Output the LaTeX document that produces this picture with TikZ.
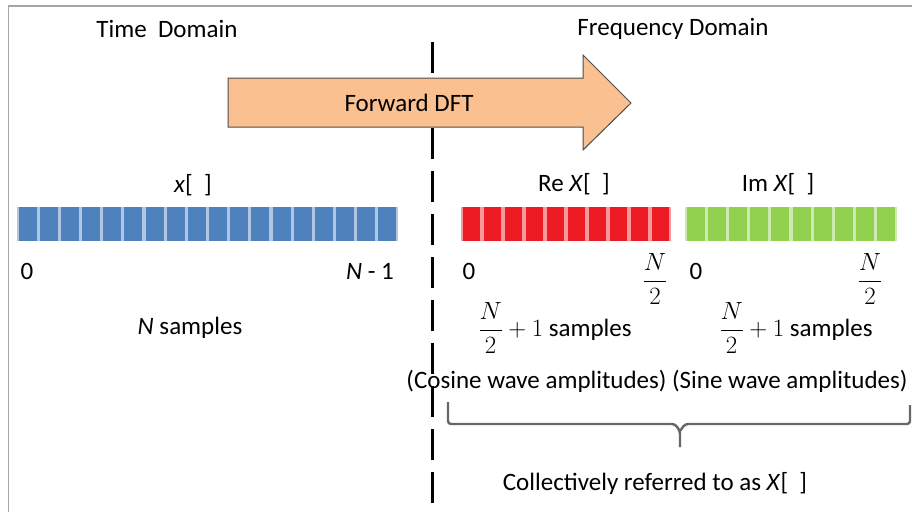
\documentclass[tikz,border=0pt]{standalone}
\usepackage{amsmath}
\usepackage{fontspec}
\setmainfont{Carlito}
\usetikzlibrary{arrows.meta,calc,positioning}
\definecolor{tdblue}{HTML}{4F81BD}
\definecolor{tdred}{HTML}{ED1C24}
\definecolor{tdgreen}{HTML}{92D050}
\definecolor{dftorange}{HTML}{FAC090}
\tikzset {
  >=Stealth,
  every node/.style={font=\fontsize{25}{30}\selectfont,inner sep=0pt},
  cell/.style={fill=#1},
  gap/.style={fill=#1!45!white},
  divider/.style={line width=3pt,dash pattern=on 31pt off 12pt},
  bracket/.style={black!60,line width=2.4pt,rounded corners=3pt},
}

\begin{document}
\begin{tikzpicture}[x=1pt,y=-1pt]
          \useasboundingbox (0,0) rectangle (912,512);
          % frame
          \draw[gray!70,line width=1.5pt] (8.5,512) -- (8.5,6) -- (912,6);
          % dashed split
          \coordinate (divtop) at (432,42);
          \coordinate (divbot) at (432,505);
          \draw[divider] (divtop) -- (divbot);
          % forward DFT arrow
          \coordinate (tailtop) at (228,78);
          \coordinate (tailbot) at (228,127);
          \coordinate (tip) at (631,103);
          \filldraw[fill=dftorange,draw=black!70,line width=1pt]
            (tailtop) -- (583,78) -- (583,55) -- (tip) -- (583,150) -- (583,127) -- (tailbot) -- cycle;
          \node (dft) at (409,103) {Forward DFT};
          % headings
          \node (time) at (167,29) {Time\ \ Domain};
          \node (freq) at (673,29) {Frequency Domain};
          % sample bars
          \fill[gap=tdblue] (17,207) rectangle (398,241);
          \foreach \i in {0,...,17}
            \fill[cell=tdblue] ({17+\i*21.17+1.6},207) rectangle ++(18,34);
          \fill[gap=tdred] (461,207) rectangle (671,241);
          \foreach \i in {0,...,9}
            \fill[cell=tdred] ({461+\i*21+1.6},207) rectangle ++(17.8,34);
          \fill[gap=tdgreen] (685,207) rectangle (897,241);
          \foreach \i in {0,...,9}
            \fill[cell=tdgreen] ({685+\i*21.2+1.6},207) rectangle ++(18,34);
          % bar labels
          \node (xlab) at (193,185) {\textit{x}[\ \ ]};
          \node (relab) at (574,184) {Re \textit{X}[\ \ ]};
          \node (imlab) at (778,184) {Im \textit{X}[\ \ ]};
          % index labels
          \node (t0) at (27,271) {0};
          \node (tn) at (370,271) {\textit{N} - 1};
          \node (r0) at (469,271) {0};
          \node (rn) at (655,279) {$\dfrac{N}{2}$};
          \node (i0) at (696,271) {0};
          \node (in) at (870,279) {$\dfrac{N}{2}$};
          % sample counts
          \node (tcount) at (190,328) {\textit{N} samples};
          \node (rcount) at (555,328) {$\dfrac{N}{2}+1$ samples};
          \node (icount) at (796,328) {$\dfrac{N}{2}+1$ samples};
          \node (amps) at (657,381) {(Cosine wave amplitudes) (Sine wave amplitudes)};
          % brace
          \coordinate (bl) at (448,402);
          \coordinate (br) at (910,405);
          \coordinate (bm) at (680,431);
          \draw[bracket] (bl) -- (448,424) -- (675,424) -- (bm) -- (680,447);
          \draw[bracket] (br) -- (910,424) -- (685,424) -- (bm);
          \node (together) at (655,483) {Collectively referred to as \textit{X}[\ \ ]};
        \end{tikzpicture}
\end{document}
